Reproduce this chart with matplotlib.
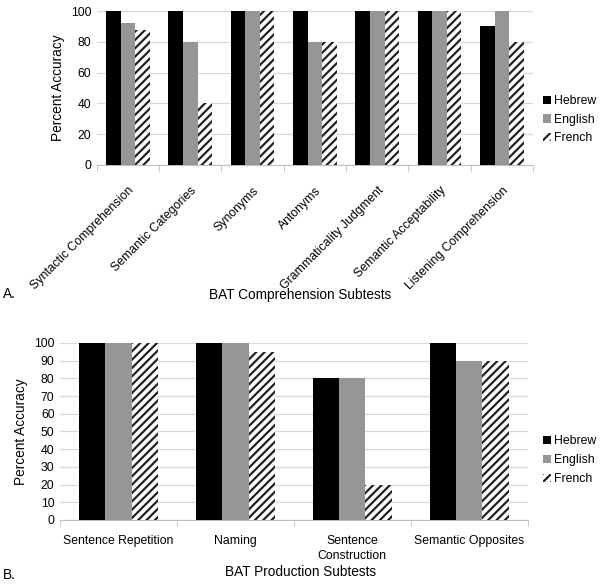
import numpy as np
import matplotlib
matplotlib.use('Agg')
import matplotlib.pyplot as plt

plt.rcParams['font.family'] = ['Liberation Sans', 'DejaVu Sans']
plt.rcParams['hatch.linewidth'] = 1.6

# dados - compreensao
comp_tests = ['Syntactic Comprehension', 'Semantic Categories', 'Synonyms', 'Antonyms',
              'Grammaticality Judgment', 'Semantic Acceptability', 'Listening Comprehension']
comp_hebrew = [100, 100, 100, 100, 100, 100, 90]
comp_english = [92, 80, 100, 80, 100, 100, 100]
comp_french = [88, 40, 100, 80, 100, 100, 80]

# dados - producao
prod_tests = ['Sentence Repetition', 'Naming', 'Sentence\nConstruction', 'Semantic Opposites']
prod_hebrew = [100, 100, 80, 100]
prod_english = [100, 100, 80, 90]
prod_french = [100, 95, 20, 90]

languages = ['Hebrew', 'English', 'French']


def grouped_bars(ax, cats, series, width, legend_y, pad):
    x = np.arange(len(cats))
    styles = [dict(color='black'), dict(color='#969696'),
              dict(color='white', edgecolor='#222222', hatch='////', linewidth=0)]
    for i, (vals, st) in enumerate(zip(series, styles)):
        ax.bar(x + (i - 1) * width, vals, width, label=languages[i], zorder=3, **st)
    ax.set_xlim(-0.5, len(cats) - 0.5)
    ax.set_xticks(x)
    ax.set_xticks(np.arange(len(cats) + 1) - 0.5, minor=True)
    ax.tick_params(axis='x', which='major', length=0, pad=pad)
    ax.tick_params(axis='x', which='minor', length=4, color='#bfbfbf')
    ax.tick_params(axis='y', length=0, labelsize=8.8, pad=4)
    ax.yaxis.grid(True, color='#d9d9d9', linewidth=0.9, zorder=0)
    for s in ['top', 'right', 'left']:
        ax.spines[s].set_visible(False)
    ax.spines['bottom'].set_color('#bfbfbf')
    ax.set_ylabel('Percent Accuracy', fontsize=9.8)
    fig = ax.figure
    ax.legend(loc='center left', bbox_to_anchor=(0.903, legend_y),
              bbox_transform=fig.transFigure, frameon=False, borderaxespad=0, borderpad=0,
              fontsize=8.8, handlelength=0.65, handleheight=0.65, handletextpad=0.3,
              labelspacing=0.55)


fig = plt.figure(figsize=(6.01, 5.84), dpi=100)

ax1 = fig.add_axes([0.161, 0.7175, 0.726, 0.2635])
grouped_bars(ax1, comp_tests, [comp_hebrew, comp_english, comp_french], 0.233, 0.795, 14)
ax1.set_ylim(0, 100)
ax1.set_yticks(range(0, 101, 20))
ax1.set_xticklabels(comp_tests, rotation=45, ha='right', rotation_mode='anchor', fontsize=8.8)
fig.text(0.5, 0.495, 'BAT Comprehension Subtests', ha='center', va='center', fontsize=9.8)
fig.text(0.005, 0.497, 'A.', ha='left', va='center', fontsize=9.8)

ax2 = fig.add_axes([0.1, 0.1096, 0.778, 0.3031])
grouped_bars(ax2, prod_tests, [prod_hebrew, prod_english, prod_french], 0.225, 0.212, 11)
ax2.set_ylim(0, 100)
ax2.set_yticks(range(0, 101, 10))
ax2.set_xticklabels(prod_tests, fontsize=8.8, linespacing=1.35)
fig.text(0.5, 0.021, 'BAT Production Subtests', ha='center', va='center', fontsize=9.8)
fig.text(0.005, 0.016, 'B.', ha='left', va='center', fontsize=9.8)

fig.savefig('out.png', dpi=100)
